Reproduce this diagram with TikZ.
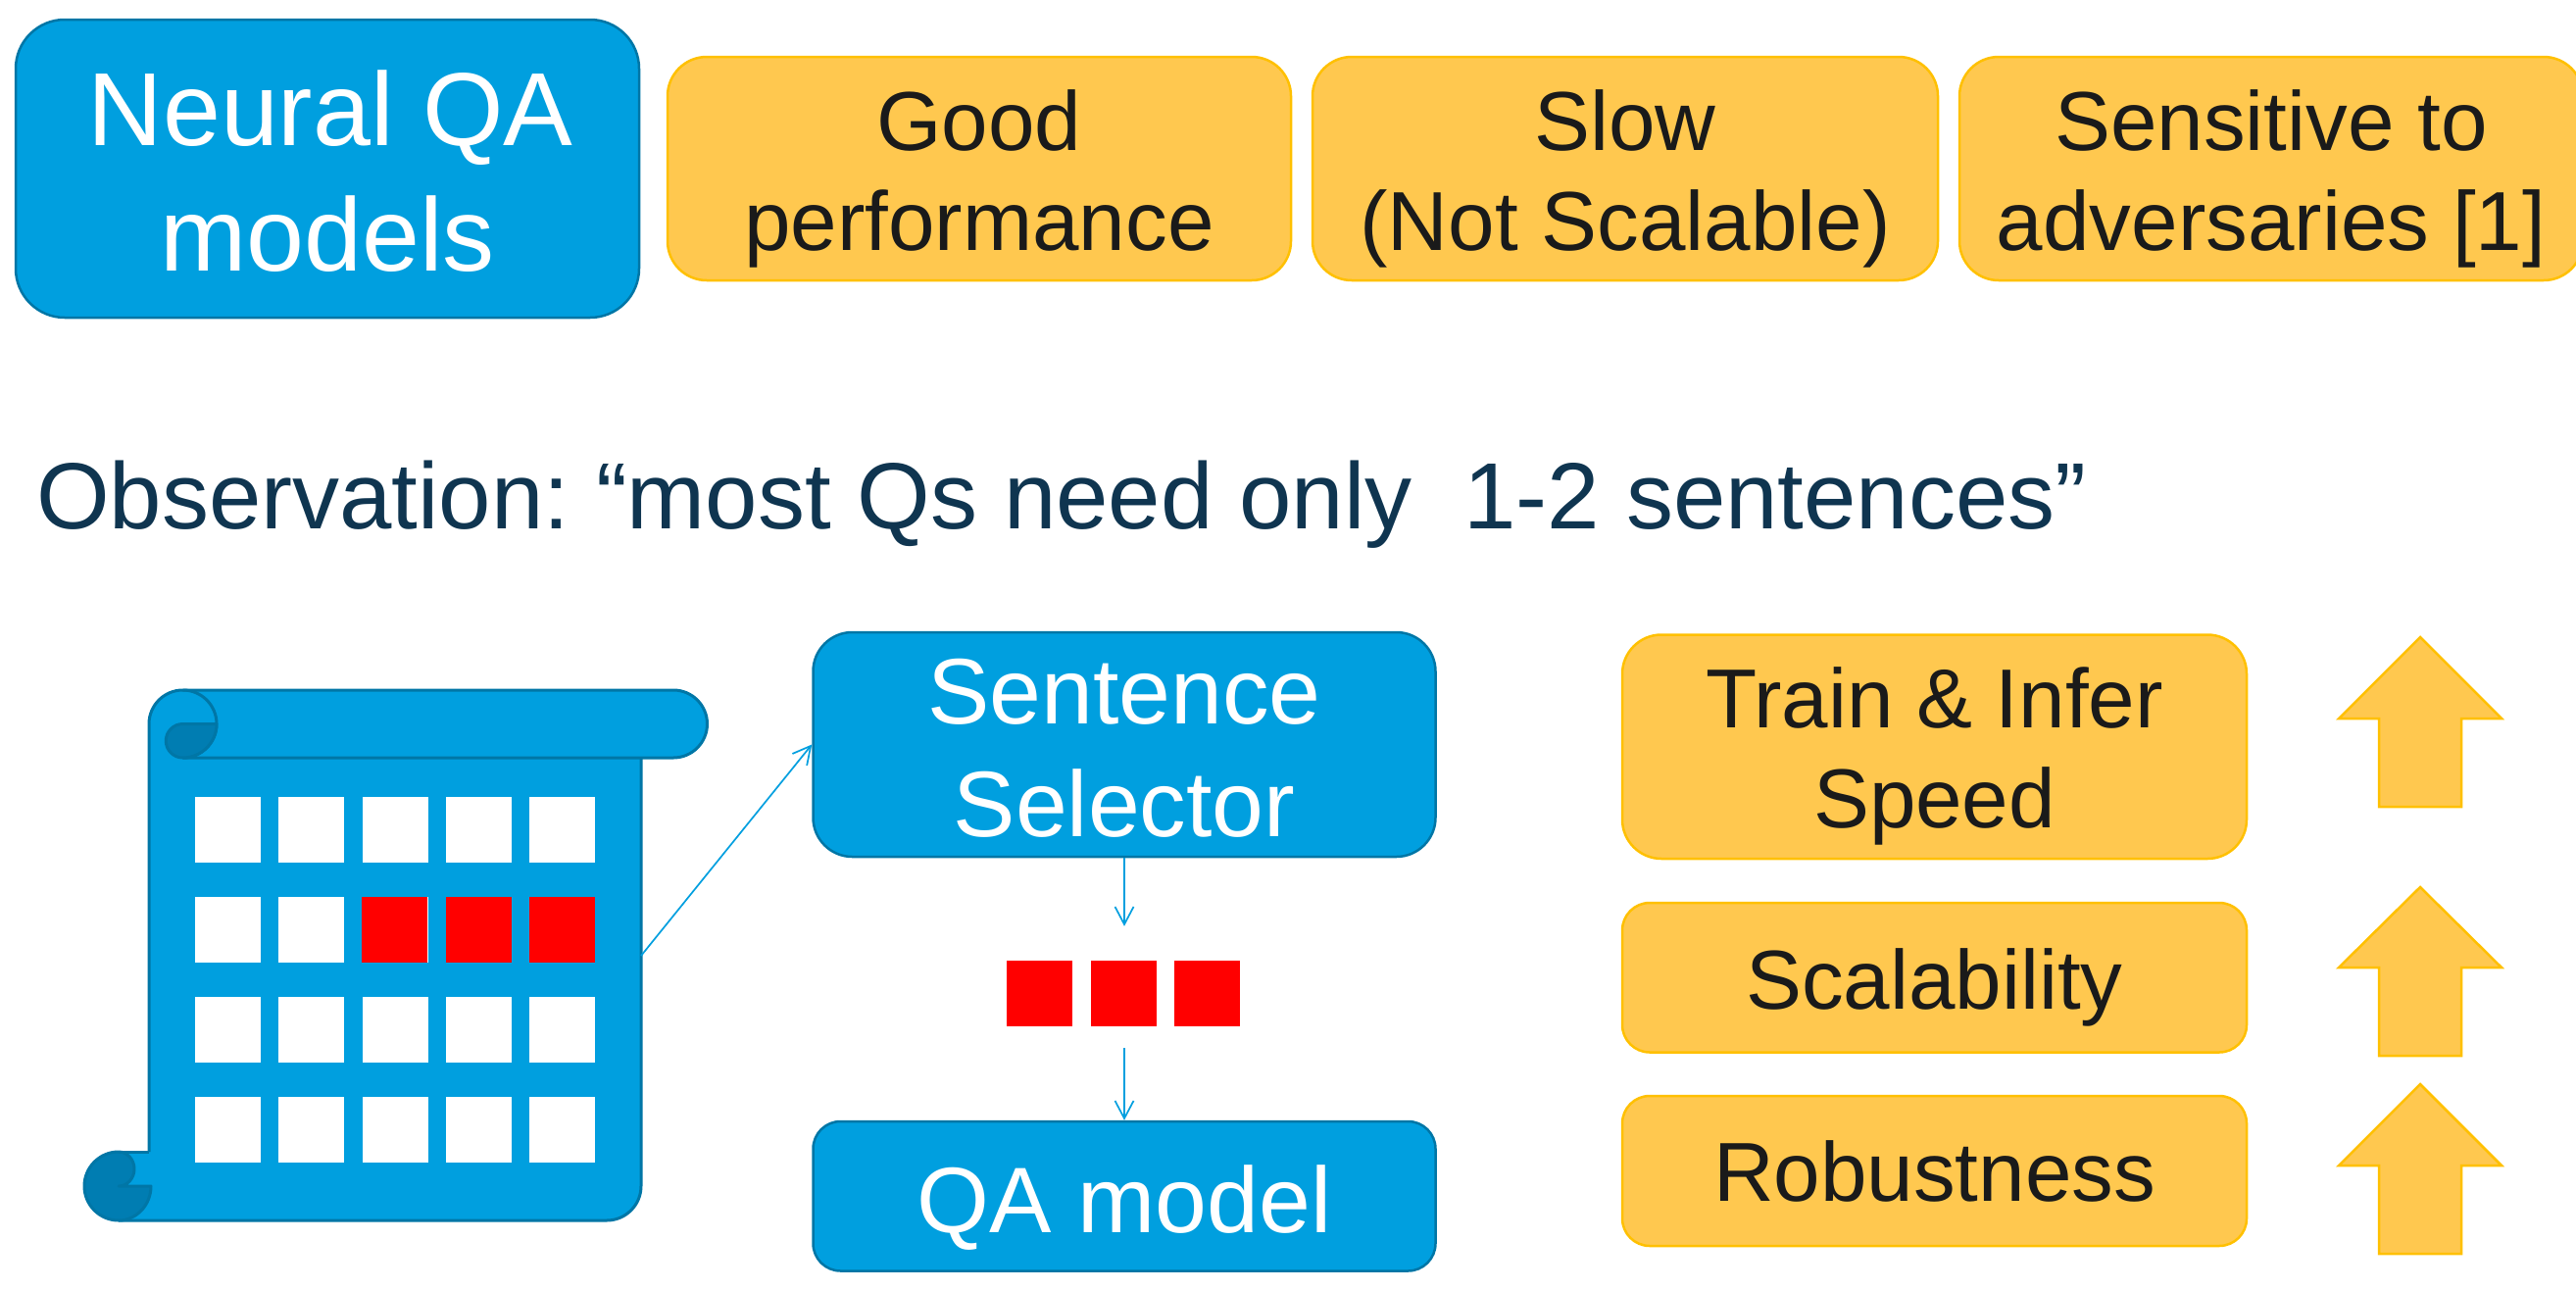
\documentclass[tikz,border=0pt]{standalone}
\usepackage{fontspec}
\setmainfont{Liberation Sans}
\newcommand{\natsp}{\spaceskip=0.278em\relax}
\usetikzlibrary{arrows.meta}
\definecolor{qblue}{HTML}{009FDF}
\definecolor{qedge}{HTML}{0076A6}
\definecolor{qdark}{HTML}{007DB2}
\definecolor{qorange}{HTML}{FFC84F}
\definecolor{qoedge}{HTML}{FFC000}
\definecolor{qtext}{HTML}{1A1A1A}
\definecolor{qnavy}{HTML}{0F3550}
\definecolor{qred}{HTML}{FF0000}
\tikzset{
  bluebox/.style={draw=qedge,fill=qblue,line width=2.5pt,text=white,inner sep=0pt,align=center},
  orangebox/.style={draw=qoedge,fill=qorange,line width=2.5pt,text=qtext,inner sep=0pt,align=center,font=\fontsize{85.4}{102}\selectfont},
  cell/.style={fill=#1,inner sep=0pt,minimum width=67pt,minimum height=67pt},
  link/.style={draw=qblue,line width=1.7pt,-{Straight Barb[length=18pt,width=19pt,line width=1.7pt]}},
  scrollline/.style={draw=qedge,line width=3pt,line join=round},
  uparrow/.style={draw=qoedge,fill=qorange,line width=2.5pt,line join=miter},
}
\begin{document}
\frenchspacing
\begin{tikzpicture}[x=1pt,y=1pt,yscale=-1]
\useasboundingbox (0,0) rectangle (2628,1315);
% top row
\node[bluebox,rounded corners=50pt,text width=636pt,text height=128pt,text depth=176pt,font=\fontsize{106}{128}\selectfont] (neural) at (334,172) {\natsp\hspace*{6pt}Neural QA\\models};
\node[orangebox,rounded corners=40pt,text width=636pt,text height=95pt,text depth=133pt] (good) at (999,172) {\natsp Good\\performance};
\node[orangebox,rounded corners=40pt,text width=638pt,text height=95pt,text depth=133pt] (slow) at (1658,172) {\natsp Slow\\(Not Scalable)};
\node[orangebox,rounded corners=40pt,text width=636pt,text height=95pt,text depth=133pt] (sens) at (2317,172) {\natsp Sensitive to\\adversaries [1]};
% observation
\node[anchor=base west,inner sep=0pt,text=qnavy,font=\fontsize{96}{115}\selectfont] (obs) at (37,539) {Observation: “most Qs need only\ \ 1-2 sentences”};
% scroll body
\path[fill=qblue] (152,738.5) arc[start angle=180,end angle=270,radius=34.5pt] -- (687,704) arc[start angle=-90,end angle=90,radius=34.5pt] -- (654,773) -- (654,1210) arc[start angle=0,end angle=90,radius=35pt] -- (121,1245) -- (121,1175) -- (152,1175) -- cycle;
\draw[scrollline] (654,773) -- (654,1210) arc[start angle=0,end angle=90,radius=35pt] -- (121,1245);
\draw[scrollline] (152,1175) -- (152,738.5) arc[start angle=180,end angle=270,radius=34.5pt] -- (687,704) arc[start angle=-90,end angle=90,radius=34.5pt] -- (186.5,773);
% top curl
\draw[scrollline] (186.5,704) arc[start angle=-90,end angle=90,radius=34.5pt];
\draw[scrollline,fill=qdark] (221,738.5) -- (186.5,738.5) arc[start angle=270,end angle=90,radius=17.25pt] arc[start angle=90,end angle=0,radius=34.5pt] -- cycle;
% bottom curl
\draw[scrollline,fill=qdark] (121,1175) arc[start angle=270,end angle=90,radius=35pt] arc[start angle=90,end angle=0,x radius=33pt,y radius=35pt] -- (121,1210) arc[start angle=90,end angle=-90,x radius=16pt,y radius=17.5pt] -- cycle;
\draw[scrollline] (121,1175) -- (152,1175);
% cells
\foreach \r/\y in {a/846,b/948.5,c/1050.5,d/1152.5}{
  \foreach \c/\x in {1/232.5,2/317.5,3/403.5,4/488.5,5/573.5}{
    \node[cell=white] (s\r\c) at (\x,\y) {};
  }
}
\node[cell=qred] (sb3red) at (402.5,948.5) {};
\node[cell=qred] (sb4red) at (488.5,948.5) {};
\node[cell=qred] (sb5red) at (573.5,948.5) {};
\coordinate (scrollout) at (654,975);
% centre column
\node[bluebox,rounded corners=40pt,text width=635pt,text height=93pt,text depth=136pt,font=\fontsize{95}{115}\selectfont] (sel) at (1147,759.5) {\natsp Sentence\\Selector};
\node[bluebox,rounded corners=28pt,text width=635pt,text height=113pt,text depth=39.5pt,font=\fontsize{95}{114}\selectfont] (qa) at (1147,1220.25) {\natsp QA model};
\node[cell=qred] (r1) at (1060.5,1013.5) {};
\node[cell=qred] (r2) at (1146.5,1013.5) {};
\node[cell=qred] (r3) at (1231,1013.5) {};
\draw[link] (scrollout) -- (sel.west);
\draw[link,shorten >=35pt] (sel.south) -- (sel.south |- r2.north);
\draw[link,shorten <=22pt] (sel.south |- r2.south) -- (qa.north);
% right column
\node[orangebox,rounded corners=40pt,text width=637pt,text height=94.5pt,text depth=134pt] (train) at (1973.5,761.75) {\natsp Train \& Infer\\Speed};
\node[orangebox,rounded corners=28pt,text width=637pt,text height=108pt,text depth=44.5pt] (scal) at (1973.5,997.25) {\natsp Scalability};
\node[orangebox,rounded corners=28pt,text width=637pt,text height=107.6pt,text depth=45.4pt] (rob) at (1973.5,1194.5) {\natsp Robustness};
% up arrows
\draw[uparrow] (2469,650) -- (2552,733) -- (2511,733) -- (2511,823) -- (2427,823) -- (2427,733) -- (2386,733) -- cycle;
\draw[uparrow] (2469,905) -- (2552,987) -- (2511,987) -- (2511,1077) -- (2427,1077) -- (2427,987) -- (2386,987) -- cycle;
\draw[uparrow] (2469,1106) -- (2552,1189) -- (2511,1189) -- (2511,1279) -- (2427,1279) -- (2427,1189) -- (2386,1189) -- cycle;
\end{tikzpicture}
\end{document}
